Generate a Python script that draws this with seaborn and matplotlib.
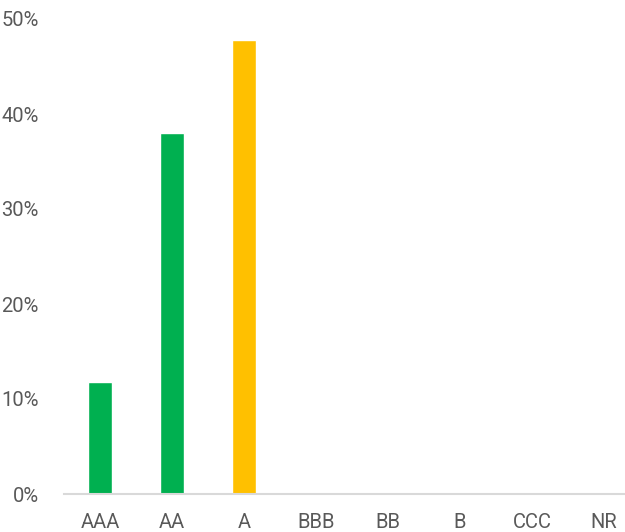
import pandas as pd
import matplotlib.pyplot as plt
import seaborn as sns

# Rating distribution
ratings = ['AAA', 'AA', 'A', 'BBB', 'BB', 'B', 'CCC', 'NR']
shares = [11.8, 38.0, 47.8, 0, 0, 0, 0, 0]
bar_colors = ['#00B050', '#00B050', '#FFC000', '#00B050', '#00B050', '#00B050', '#00B050', '#00B050']

data = pd.DataFrame({'Rating': ratings, 'Share': shares})

sns.set_style('white')
plt.rcParams['font.family'] = ['Roboto', 'DejaVu Sans']

fig = plt.figure(figsize=(6.25, 5.32), dpi=100)
ax = fig.add_axes([64 / 625, 38 / 532, 576 / 625, 475 / 532])

sns.barplot(data=data, x='Rating', y='Share', hue='Rating', palette=bar_colors,
            width=0.33, legend=False, ax=ax, saturation=1)

ax.set_ylim(0, 50)
ax.set_xlim(-0.5, 7.5)
ax.set_yticks([0, 10, 20, 30, 40, 50])
ax.set_yticklabels([f'{v}%' for v in [0, 10, 20, 30, 40, 50]])
ax.set_xlabel('')
ax.set_ylabel('')
ax.tick_params(axis='both', length=0, labelsize=14.5, labelcolor='#595959')
ax.tick_params(axis='y', pad=18)
ax.tick_params(axis='x', pad=14)

for side in ['top', 'right', 'left']:
    ax.spines[side].set_visible(False)
ax.spines['bottom'].set_color('#D9D9D9')
ax.spines['bottom'].set_linewidth(1.5)

fig.savefig('out.png', dpi=100)
